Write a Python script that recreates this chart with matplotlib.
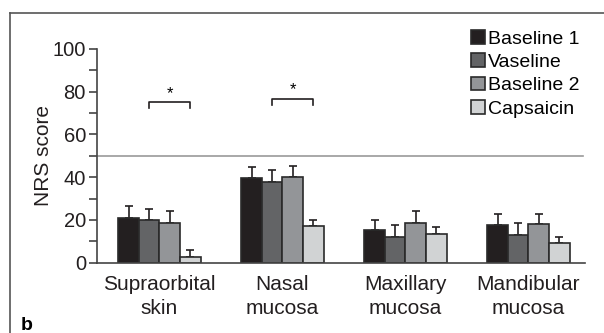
import numpy as np
import matplotlib
matplotlib.use('Agg')
import matplotlib.pyplot as plt
from matplotlib.lines import Line2D

plt.rcParams['font.family'] = ['Liberation Sans', 'DejaVu Sans']

regions = ['Supraorbital\nskin', 'Nasal\nmucosa', 'Maxillary\nmucosa', 'Mandibular\nmucosa']
conditions = ['Baseline 1', 'Vaseline', 'Baseline 2', 'Capsaicin']
baseline1 = [21.1, 39.7, 15.2, 17.5]
vaseline = [19.9, 37.6, 12.0, 12.8]
baseline2 = [18.6, 40.0, 18.7, 18.0]
capsaicin = [2.7, 17.3, 13.6, 9.1]
err_b1 = [5.4, 5.3, 4.8, 5.3]
err_vas = [5.4, 5.7, 5.8, 5.8]
err_b2 = [5.6, 5.4, 5.7, 4.8]
err_cap = [3.1, 2.8, 3.0, 3.1]
colors = ['#231f20', '#636466', '#939598', '#d1d3d4']
# significance: (region index, from condition, to condition, height)
sig = [(0, 1, 3, 75.0), (1, 1, 3, 76.5)]

values = [baseline1, vaseline, baseline2, capsaicin]
errors = [err_b1, err_vas, err_b2, err_cap]

fig = plt.figure(figsize=(6.04, 3.33), dpi=100)
ax = fig.add_axes([97/604, 1-262.7/333, 488/604, (262.7-49)/333])

x = np.arange(len(regions))
w = 0.167
for i in range(4):
    xs = x + (i - 1.5) * w
    ax.errorbar(xs, values[i], yerr=[np.zeros(4), errors[i]], fmt='none',
                ecolor='#231f20', elinewidth=1.2, capsize=3, capthick=1.2, zorder=1)
    ax.bar(xs, values[i], width=w, color=colors[i], edgecolor='#2a2a2a',
           linewidth=1.2, label=conditions[i], zorder=2)

for g, a, b, h in sig:
    x1 = g + (a - 1.5) * w
    x2 = g + (b - 1.5) * w
    ax.plot([x1, x1, x2, x2], [h - 2.8, h, h, h - 2.8], color='#231f20', lw=1.2)
    ax.text((x1 + x2) / 2, h + 0.8, '*', ha='center', va='bottom', fontsize=12)

ax.axhline(50, xmin=0, xmax=0.996, color='#9a9a9a', lw=1.2, zorder=0)

ax.set_xlim(-0.508, 3.46)
ax.set_ylim(0, 100)
ax.set_yticks([0, 20, 40, 60, 80, 100])
ax.set_yticks([10, 30, 50, 70, 90], minor=True)
ax.set_xticks(x)
ax.set_xticklabels(regions, fontsize=15, linespacing=1.3)
ax.tick_params(axis='x', length=0, pad=9, colors='#231f20')
ax.tick_params(axis='y', which='both', length=6, width=1.2, color='#444444',
               labelsize=14.5, pad=2, labelcolor='#231f20')
for s in ['top', 'right']:
    ax.spines[s].set_visible(False)
for s in ['left', 'bottom']:
    ax.spines[s].set_color('#444444')
    ax.spines[s].set_linewidth(1.2)
ax.set_ylabel('NRS score', fontsize=15, color='#231f20')
ax.yaxis.set_label_coords(-0.09, 0.5)

ax.legend(loc='upper left', bbox_to_anchor=(471/604, 1-30/333), bbox_transform=fig.transFigure,
          frameon=False, fontsize=14, handlelength=0.7, handleheight=0.7,
          handletextpad=0.15, labelspacing=0.3, borderaxespad=0, borderpad=0)

fig.add_artist(Line2D([10/604, 10/604], [0, 1-13/333], color='#555555', lw=1.2,
                      transform=fig.transFigure))
fig.add_artist(Line2D([10/604, 1], [1-13/333, 1-13/333], color='#555555', lw=1.2,
                      transform=fig.transFigure))
fig.text(21/604, 1-325/333, 'b', fontsize=14, fontweight='bold', va='center', ha='left')

fig.savefig('out.png', dpi=100)
